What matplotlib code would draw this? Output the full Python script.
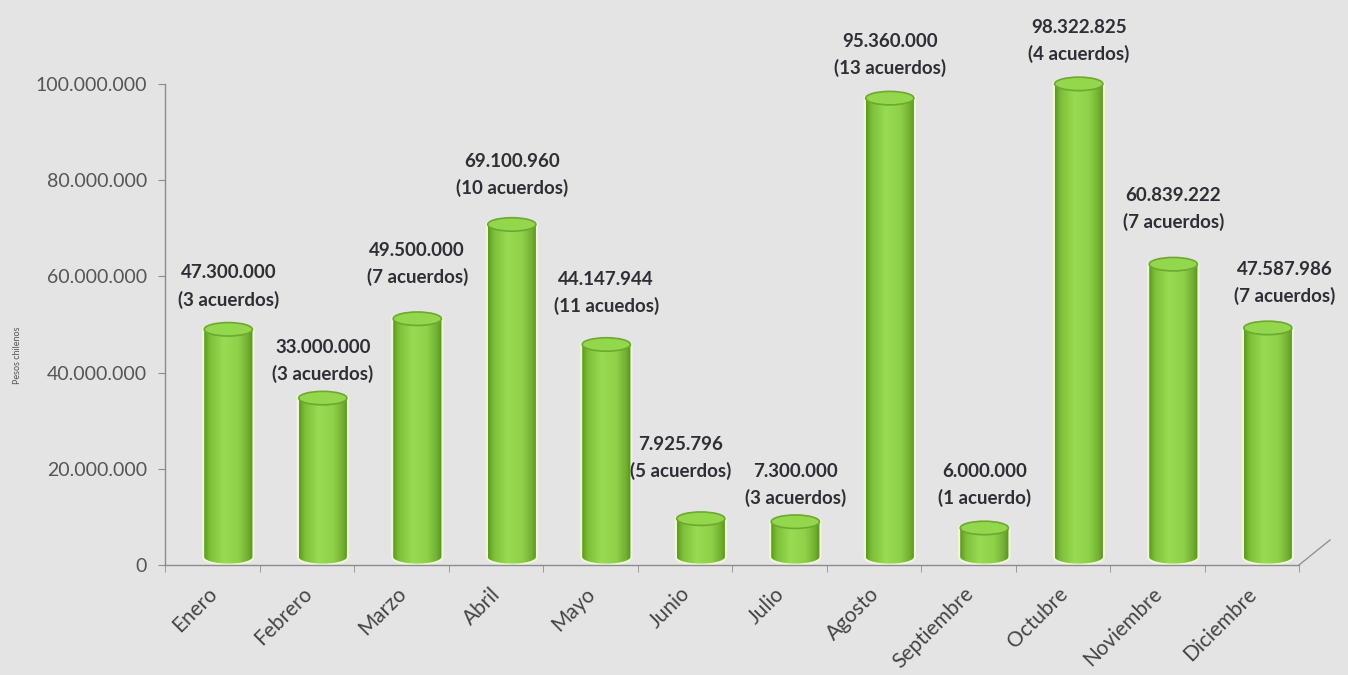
import numpy as np
import matplotlib
matplotlib.use("Agg")
import matplotlib.pyplot as plt
from matplotlib.path import Path
from matplotlib.patches import PathPatch, Ellipse
from matplotlib.colors import LinearSegmentedColormap
import matplotlib.transforms as mtransforms

months = ["Enero", "Febrero", "Marzo", "Abril", "Mayo", "Junio", "Julio",
          "Agosto", "Septiembre", "Octubre", "Noviembre", "Diciembre"]
values = [47300000, 33000000, 49500000, 69100960, 44147944, 7925796, 7300000,
          95360000, 6000000, 98322825, 60839222, 47587986]
agreements = ["(3 acuerdos)", "(3 acuerdos)", "(7 acuerdos)", "(10 acuerdos)",
              "(11 acuedos)", "(5 acuerdos)", "(3 acuerdos)", "(13 acuerdos)",
              "(1 acuerdo)", "(4 acuerdos)", "(7 acuerdos)", "(7 acuerdos)"]
yticks = [0, 20000000, 40000000, 60000000, 80000000, 100000000]
ylabel = "Pesos chilenos"

def fmt(v):
    return f"{v:,}".replace(",", ".")

W, H = 1348, 675
fig = plt.figure(figsize=(W / 100, H / 100), dpi=100)
fig.patch.set_facecolor("#e4e4e4")
ax = fig.add_axes([165 / W, 1 - 565 / H, (1299 - 165) / W, (565 - 84) / H])
ax.set_facecolor("none")

font = "Lato"
dx = 0.17
base = 1700000
bw = 0.51
cap_h = 2800000

grad = np.linspace(0, 1, 256)
cyl_cmap = LinearSegmentedColormap.from_list(
    "cyl", [(0, "#5c9820"), (0.12, "#7cc038"), (0.4, "#98dc52"),
            (0.7, "#8ed149"), (0.9, "#72b030"), (1, "#58921e")])

bars = ax.bar(np.arange(len(months)) + dx, values, width=bw, bottom=base,
              color="none", edgecolor="none")

for i, (b, v) in enumerate(zip(bars, values)):
    x0 = b.get_x()
    x1 = x0 + b.get_width()
    xc = (x0 + x1) / 2
    bot = b.get_y()
    top = bot + b.get_height()
    t = np.linspace(0, np.pi, 40)
    arc_x = xc + (bw / 2) * np.cos(t)
    arc_y = bot - (cap_h / 2) * np.sin(t)
    verts = [(x0, top), (x1, top)] + list(zip(arc_x, arc_y)) + [(x0, top)]
    codes = [Path.MOVETO] + [Path.LINETO] * (len(verts) - 2) + [Path.CLOSEPOLY]
    path = Path(verts, codes)
    halo = PathPatch(path, facecolor="none", edgecolor="#eef8d8", lw=3,
                     zorder=2, clip_on=False)
    ax.add_patch(halo)
    body = PathPatch(path, facecolor="none", edgecolor="none", zorder=3,
                     clip_on=False)
    ax.add_patch(body)
    im = ax.imshow(grad[None, :], cmap=cyl_cmap, aspect="auto",
                   extent=[x0, x1, bot - cap_h, top], zorder=3,
                   interpolation="bicubic")
    im.set_clip_box(None)
    im.set_clip_path(body)
    cap = Ellipse((xc, top), bw, cap_h, facecolor="#93d74c",
                  edgecolor="#6ea82e", lw=1.2, zorder=4, clip_on=False)
    ax.add_patch(cap)

ax.set_xlim(-0.5, len(months) - 0.5)
ax.set_ylim(0, 100000000)

# value labels (nudges in pixels: dx, dy-up)
nudge = {1: (0, -6), 2: (0, 12), 3: (0, 7), 4: (0, 9), 5: (-20, 18),
         6: (0, -6), 10: (0, 12), 11: (17, 2)}
for i, (b, v, a) in enumerate(zip(bars, values, agreements)):
    xc = b.get_x() + b.get_width() / 2
    top = b.get_y() + b.get_height() + cap_h / 2
    ox, oy = nudge.get(i, (0, 0))
    ax.annotate(fmt(v) + "\n" + a, (xc, top),
                xytext=(ox * 0.72, (14 + oy) * 0.72),
                textcoords="offset points", ha="center", va="bottom",
                fontsize=13.5, fontweight="bold", color="#2e2e36",
                family=font, linespacing=1.6, zorder=6, annotation_clip=False)

# axes styling
for s in ["top", "right"]:
    ax.spines[s].set_visible(False)
for s in ["left", "bottom"]:
    ax.spines[s].set_color("#8c8c8c")
    ax.spines[s].set_linewidth(1.0)

ax.set_yticks(yticks)
ax.set_yticklabels([fmt(v) for v in yticks], fontsize=14, color="#555555",
                   family=font)
ax.tick_params(axis="y", length=5, color="#8c8c8c", pad=8)

ax.set_xticks(np.arange(len(months)))
ax.set_xticks(np.arange(len(months) + 1) - 0.5, minor=True)
ax.tick_params(axis="x", which="major", length=0)
ax.tick_params(axis="x", which="minor", length=5, color="#8c8c8c")
ax.set_xticklabels(months, rotation=45, ha="right", va="center",
                   rotation_mode="anchor", fontsize=15, color="#444444",
                   family=font)
off = mtransforms.ScaledTranslation(2 / 100, -21 / 100, fig.dpi_scale_trans)
for lab in ax.get_xticklabels():
    lab.set_transform(lab.get_transform() + off)

fig.text(18 / W, 1 - 355 / H, ylabel, rotation=90, ha="center", va="center",
         fontsize=6.5, color="#555555", family=font)

fig.add_artist(plt.Line2D([1299 / W, 1330 / W], [1 - 565 / H, 1 - 540 / H],
                          color="#8c8c8c", lw=0.9))

fig.savefig("out.png", dpi=100, facecolor=fig.get_facecolor())
